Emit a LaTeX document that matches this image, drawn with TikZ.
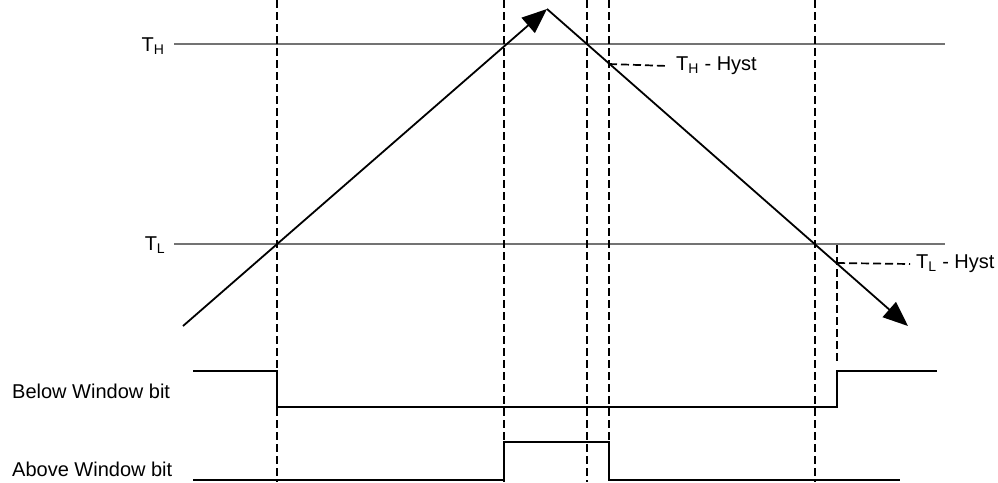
\documentclass[tikz,border=0pt]{standalone}
\usepackage{fontspec}
\setmainfont{Liberation Sans}
\usetikzlibrary{arrows.meta}
\usetikzlibrary{positioning}

\begin{document}
\begin{tikzpicture}[x=1pt,y=-1pt,
  level/.style={line width=2.6pt, black!55},
  marker/.style={dash pattern=on 8pt off 4pt, line width=1.7pt},
  ramp/.style={line width=1.8pt},
  tip/.style={-{Triangle[length=25pt,width=20pt]}},
  bit/.style={line width=2.2pt},
  lbl/.style={font=\fontsize{20}{24}\selectfont, inner sep=0pt}]

\useasboundingbox (0,0) rectangle (998,482);

%---------------------------------------
% Key positions
%---------------------------------------
\def\yTH{44}
\def\yTL{244}
\def\yBhi{371}
\def\yBlo{407}
\def\yAhi{442}
\def\yAlo{480}

% crossings of the ramp
\coordinate (start) at (183,326);
\coordinate (peak)  at (547,9);
\coordinate (stop)  at (908,326);
\coordinate (hH)    at (609,64);
\coordinate (hL)    at (837,263);

%---------------------------------------
% Threshold levels
%---------------------------------------
\node[lbl] (TH) at (153,46) {T\textsubscript{H}};
\node[lbl] (TL) at (155,245) {T\textsubscript{L}};
\coordinate (THend) at (945,\yTH);
\coordinate (TLend) at (945,\yTL);
\draw[level] (174,\yTH) -- (THend);
\draw[level] (174,\yTL) -- (TLend);

% ---- hysteresis marks ----
\node[lbl, anchor=west] (hystH) at (676,66) {T\textsubscript{H} - Hyst};
\node[lbl, anchor=west] (hystL) at (916,264) {T\textsubscript{L} - Hyst};
\draw[marker] (hH) -- (hystH.west -| 668,0);
\draw[marker] (hL) -- (hystL.west -| 910,0);

%---------------------------------------
% Temperature ramp
%---------------------------------------
\draw[ramp, tip] (start) -- (peak);
\draw[ramp, tip] (peak) -- (stop);

%---------------------------------------
% Event markers
%---------------------------------------
\foreach \xx in {277,504,587,815}
  \draw[marker] (\xx,0) -- (\xx,482);
\draw[marker] (609,0) -- (609,\yAlo);
\draw[marker] (837,245) -- (837,363);

%---------------------------------------
% Status bits
%---------------------------------------
\node[lbl, anchor=base west] (below) at (12,398) {Below Window bit};
\node[lbl, anchor=base west] (above) at (12,476) {Above Window bit};

\draw[bit] (193,\yBhi) -- (277,\yBhi) -- (277,\yBlo) -- (837,\yBlo)
  -- (837,\yBhi) -- (937,\yBhi);
\draw[bit] (193,\yAlo) -- (504,\yAlo) -- (504,\yAhi) -- (609,\yAhi)
  -- (609,\yAlo) -- (900,\yAlo);

\end{tikzpicture}
\end{document}
